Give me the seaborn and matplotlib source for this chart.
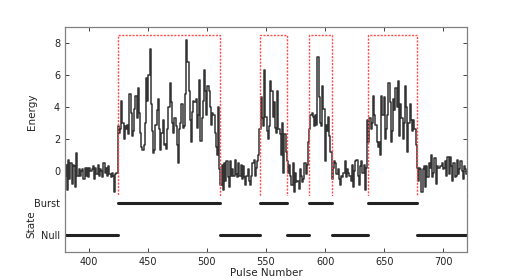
import matplotlib
matplotlib.use("Agg")
import matplotlib.pyplot as plt
import numpy as np
import pandas as pd
import seaborn as sns
from matplotlib.patches import Rectangle

# energy per pulse, pulses 380..720, split by null / burst stretches
null_1 = [-0.3, 0.4, -1.2, 0.7, -0.5, 0.5, -0.8, 0.4, 0.3, -1.0,
          1.1, -0.3, 0.1, -0.3, 0.0, 0.1, -0.5, 0.2, -0.3, 0.2,
          -0.4, 0.2, 0.0, 0.1, 0.3, -0.5, 0.2, -0.2, 0.4, -0.3,
          0.1, 0.0, -0.4, 0.5, -0.1, 0.2, -0.3, 0.3, -0.2, -0.4,
          -0.1, -0.3, -1.3, -0.2, -0.1]
burst_1 = [2.8, 2.4, 2.6, 4.4, 3.0, 2.0, 2.8, 2.6, 2.9, 2.3,
           4.8, 3.6, 2.2, 2.5, 3.9, 4.7, 3.3, 5.2, 3.6, 2.4,
           1.5, 1.3, 1.6, 3.0, 5.8, 4.4, 6.0, 7.6, 4.2, 2.5,
           1.1, 1.3, 2.9, 3.8, 4.5, 2.6, 1.3, 2.4, 3.2, 1.6,
           1.7, 1.4, 2.6, 4.0, 5.5, 4.3, 3.0, 2.4, 3.3, 2.8,
           1.6, 0.5, 2.6, 3.0, 4.2, 2.7, 2.8, 4.8, 8.2, 6.8,
           5.0, 3.2, 1.8, 3.7, 4.4, 4.3, 4.5, 2.7, 3.5, 5.7,
           1.9, 3.3, 4.4, 6.3, 5.0, 3.5, 5.3, 5.0, 4.0, 2.9,
           3.6, 3.5, 2.4, 1.5, 1.0, 4.0]
null_2 = [0.1, -0.9, 0.4, -1.2, 0.5, -0.6, 0.6, -0.4, -1.0, 0.6,
          -0.3, 0.1, -0.3, 0.7, -0.2, -0.4, 0.5, -0.3, 0.4, -0.5,
          0.3, -0.4, -0.9, -0.3, 0.1, -0.6, -0.9, -0.3, 0.5, 0.7,
          -0.3, 0.2, 0.6, 1.0]
burst_2 = [2.6, 4.6, 3.3, 2.8, 6.3, 3.4, 2.5, 2.0, 2.8, 5.6,
           5.0, 3.4, 4.3, 2.7, 2.4, 5.0, 2.6, 2.3, 1.0, 3.0,
           -0.1, 2.3, 1.2]
null_3 = [0.6, -0.1, 0.4, -0.3, -0.9, 0.5, -1.3, -0.1, -0.7, -0.6,
          -1.1, 0.1, -0.3, -0.7, -0.5, 0.5, -0.2, 0.4]
burst_3 = [1.8, 2.6, 3.5, 3.6, 3.4, 2.8, 3.5, 2.9, 7.1, 4.6,
           3.0, 2.8, 5.3, 3.9, 0.6, 2.9, 2.5, 3.4, 2.2, 1.2]
null_4 = [-0.5, 0.2, 0.6, 0.5, -0.2, 0.1, -0.5, -0.9, -0.3, -0.4,
          -0.1, 0.6, -0.4, 0.1, -0.1, -0.3, -0.6, 0.4, -1.0, 0.0,
          0.6, 0.7, -0.3, -0.9, 0.3, 0.6, -0.1, 0.4, -1.2, 0.2]
burst_4 = [3.2, 1.8, 3.3, 2.6, 3.0, 4.7, 3.5, 2.9, 1.8, 1.5,
           1.8, 1.0, 4.7, 3.5, 4.6, 2.0, 2.6, 3.5, 5.5, 4.3,
           1.8, 2.5, 4.5, 3.8, 5.2, 4.0, 5.6, 2.2, 4.2, 3.3,
           2.0, 3.0, 5.3, 4.0, 1.2, 3.0, 4.2, 3.2, 2.5, 3.2,
           2.6, 1.6]
null_5 = [0.2, -0.6, 0.2, 0.1, -1.3, 0.1, 0.3, -1.0, 0.3, -0.4,
          0.5, 0.2, 1.0, -0.4, -0.1, 0.8, -0.8, 0.3, 0.2, 0.2,
          0.3, 0.5, 0.1, 0.2, 0.6, -0.3, 0.9, -0.2, 0.9, 0.3,
          -0.6, 0.5, -0.4, -0.3, 0.7, -0.2, 0.1, 0.6, 0.0, -0.5,
          0.3, 0.1, -0.2]

first_pulse = 380
burst_start = [425, 545, 586, 636]
burst_end = [511, 568, 606, 678]
state_labels = ["Null", "Burst"]

energy = null_1 + burst_1 + null_2 + burst_2 + null_3 + burst_3 + null_4 + burst_4 + null_5
pulse = np.arange(first_pulse, first_pulse + len(energy))

state = np.zeros(len(pulse), dtype=int)
for s, e in zip(burst_start, burst_end):
    state[(pulse >= s) & (pulse < e)] = 1
# a new segment each time the state flips, so no vertical joins are drawn
segment = np.concatenate([[0], np.cumsum(np.diff(state) != 0)])

df = pd.DataFrame({"pulse": pulse, "energy": energy, "state": state, "segment": segment})
# extend each segment to the start of the next one
seg_rows = []
for seg, g in df.groupby("segment"):
    seg_rows.append(g[["pulse", "state", "segment"]])
    nxt = df[df["segment"] == seg + 1]
    end = nxt["pulse"].iloc[0] if len(nxt) else df["pulse"].iloc[-1]
    seg_rows.append(pd.DataFrame({"pulse": [end], "state": [g["state"].iloc[0]], "segment": [seg]}))
state_df = pd.concat(seg_rows, ignore_index=True)

sns.set_style("ticks")
plt.rcParams["font.family"] = ["DejaVu Sans"]
plt.rcParams["xtick.direction"] = "in"
plt.rcParams["ytick.direction"] = "in"

fig = plt.figure(figsize=(5.18, 2.8), dpi=100)
left, right, top, bottom = 65 / 518, 467 / 518, 1 - 27 / 280, 1 - 252 / 280
split = 1 - 196 / 280
ax_e = fig.add_axes([left, split, right - left, top - split])
ax_s = fig.add_axes([left, bottom, right - left, split - bottom], sharex=ax_e)

sns.lineplot(data=df, x="pulse", y="energy", ax=ax_e, color="#333333", lw=1.1,
             drawstyle="steps-mid", estimator=None)
sns.lineplot(data=state_df, x="pulse", y="state", units="segment", estimator=None,
             ax=ax_s, color="#222222", lw=2.2)

ax_e.set_xlim(380, 720)
ax_e.set_ylim(-1.56, 9.0)
ax_s.set_ylim(-0.53, 1.22)
ax_e.set_yticks([0, 2, 4, 6, 8])
ax_s.set_yticks([0, 1])
ax_s.set_yticklabels(state_labels)
ax_s.set_xticks([400, 450, 500, 550, 600, 650, 700])

spine_col = "#808080"
for ax in (ax_e, ax_s):
    for sp in ax.spines.values():
        sp.set_color(spine_col)
        sp.set_linewidth(0.9)
    ax.tick_params(labelsize=7, colors="#222222", length=3, width=0.6)
ax_e.spines["bottom"].set_visible(False)
ax_s.spines["top"].set_visible(False)
ax_e.tick_params(axis="x", bottom=False, labelbottom=False, top=True)
ax_e.tick_params(axis="y", right=True)
ax_s.tick_params(axis="y", right=True, length=0)
ax_s.tick_params(axis="x", top=False)

ax_e.set_xlabel("")
ax_e.set_ylabel("Energy", fontsize=7.5)
ax_s.set_ylabel("State", fontsize=7.5)
ax_s.set_xlabel("Pulse Number", fontsize=7.5, labelpad=1)
ax_e.yaxis.set_label_coords(-0.07, 0.5)
ax_s.yaxis.set_label_coords(-0.07, 0.5)

# dashed boxes around burst stretches, spanning both panels
box_top = 8.5
for s, e in zip(burst_start, burst_end):
    disp = ax_s.transData.transform((s, -0.25))
    y_bot = ax_e.transData.inverted().transform(disp)[1]
    ax_e.add_patch(Rectangle((s, y_bot), e - s, box_top - y_bot, fill=False,
                             edgecolor="#ff4d4d", lw=1.0, ls=(0, (1.5, 1.0)),
                             clip_on=False, zorder=5))

fig.savefig("out.png", dpi=100)
